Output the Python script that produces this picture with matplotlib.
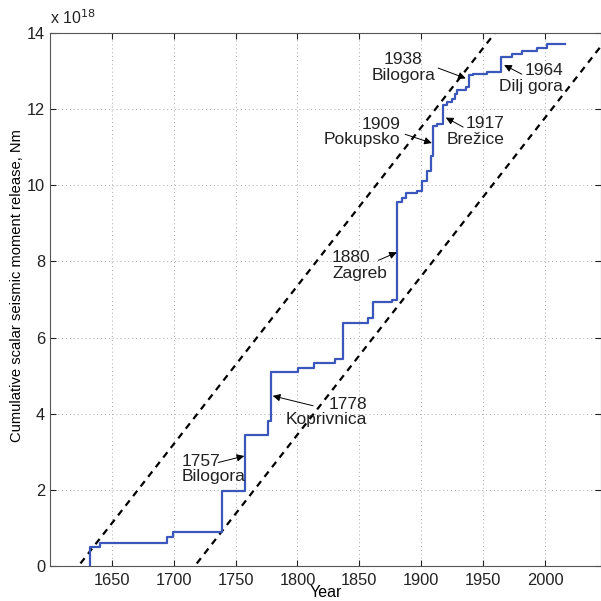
import numpy as np
import matplotlib.pyplot as plt

plt.rcParams['font.family'] = ['Liberation Sans', 'DejaVu Sans']

# jump years and cumulative moment after each jump (x 10^18 Nm)
years = [1632.3, 1632.3, 1640.4, 1694.9, 1699.7, 1739.3, 1757.6, 1776.0, 1778.7,
         1800.7, 1813.4, 1830.4, 1836.6, 1857.3, 1861.4, 1876.2, 1880.8, 1884.3,
         1887.8, 1896.4, 1900.5, 1905.0, 1907.7, 1909.9, 1912.6, 1918.0, 1920.7,
         1924.7, 1927.4, 1928.8, 1936.0, 1938.7, 1942.2, 1953.0, 1964.6, 1973.2,
         1981.3, 1993.4, 2001.5, 2016.3]
moment = [0.0, 0.51, 0.6, 0.75, 0.9, 1.96, 3.43, 3.82, 5.09,
          5.2, 5.34, 5.45, 6.39, 6.52, 6.93, 6.98, 9.56, 9.66,
          9.81, 9.85, 10.11, 10.38, 10.77, 11.56, 11.6, 12.1, 12.18,
          12.28, 12.39, 12.5, 12.57, 12.89, 12.93, 12.98, 13.36, 13.45,
          13.53, 13.62, 13.71, 13.72]

# bounding lines: moment rate and zero-crossing years
rate = 0.0416
line_starts = [1623.0, 1717.0]

labels = ["1757\nBilogora", "1778\nKoprivnica", "1880\nZagreb", "1909\nPokupsko",
          "1917\nBrežice", "1938\nBilogora", "1964\nDilj gora"]
arrow_tip = [(1757.0, 2.89), (1780.0, 4.47), (1880.3, 8.24), (1908.6, 11.11),
             (1919.9, 11.78), (1936.0, 12.81), (1967.0, 13.16)]
arrow_tail = [(1736.0, 2.72), (1812.6, 4.21), (1865.4, 8.03), (1887.0, 11.34),
              (1933.9, 11.53), (1913.7, 13.08), (1981.3, 12.92)]
text_pos = [(1706.4, 2.55), (1856.0, 4.05), (1828.0, 7.9), (1883.0, 11.4),
            (1967.5, 11.42), (1885.4, 13.1), (2014.7, 12.8)]
text_ha = ['left', 'right', 'left', 'right', 'right', 'center', 'right']

fig = plt.figure(figsize=(6.01, 6.01), dpi=100)
ax = fig.add_axes([0.0832, 0.0582, 0.9168, 0.8868])

xs = np.array([1600.0, 2045.3])
for x0 in line_starts:
    ax.plot(xs, rate * (xs - x0), color='k', ls=(0, (3, 2.5)), lw=1.6)

ax.plot(years, moment, drawstyle='steps-post', color='#3b57bb', lw=1.6)

for lab, tip, tail, pos, ha in zip(labels, arrow_tip, arrow_tail, text_pos, text_ha):
    ax.text(pos[0], pos[1], lab, ha=ha, va='center', fontsize=12.5,
            linespacing=1.05, color='#222222', multialignment=ha)
    ax.annotate('', xy=tip, xytext=tail,
                arrowprops=dict(arrowstyle='-|>', color='k', lw=0.7,
                                mutation_scale=11, shrinkA=0, shrinkB=0))

ax.set_xlim(1600, 2045.3)
ax.set_ylim(0, 14)
ax.set_xticks([1650, 1700, 1750, 1800, 1850, 1900, 1950, 2000])
ax.set_yticks([0, 2, 4, 6, 8, 10, 12, 14])
ax.grid(True, ls=(0, (1, 3)), color='#aaaaaa', lw=0.7)
ax.tick_params(direction='in', top=True, right=True, labelsize=11.8, length=4,
               colors='#222222')
ax.tick_params(axis='x', pad=5)
for s in ax.spines.values():
    s.set_color('#555555')

ax.set_xlabel('Year', fontsize=11.5, labelpad=-2)
ax.set_ylabel('Cumulative scalar seismic moment release, Nm', fontsize=10.6)
ax.yaxis.set_label_coords(-0.047, 0.527)
ax.text(0.0, 1.012, r'x 10$^{18}$', transform=ax.transAxes, fontsize=11.5,
        ha='left', va='bottom', color='#222222')

fig.savefig('out.png', dpi=100)
